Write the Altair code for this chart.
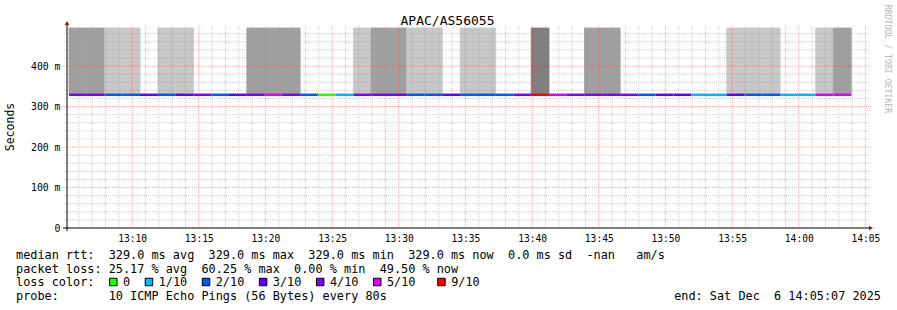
import altair as alt
import pandas as pd

NB = "\u00a0"
FONT = "DejaVu Sans Mono"

# ---------------- data ----------------
chart_title = "APAC/AS56055"
step_start = [
    "13:05:16", "13:06:36", "13:07:56", "13:09:16", "13:10:36", "13:11:56", "13:13:16", "13:14:36",
    "13:15:56", "13:17:16", "13:18:36", "13:19:56", "13:21:16", "13:22:36", "13:23:56", "13:25:16",
    "13:26:36", "13:27:56", "13:29:16", "13:30:36", "13:31:56", "13:33:16", "13:34:36", "13:35:56",
    "13:37:16", "13:38:36", "13:39:56", "13:41:16", "13:42:36", "13:43:56", "13:45:16", "13:46:36",
    "13:47:56", "13:49:16", "13:50:36", "13:51:56", "13:53:16", "13:54:36", "13:55:56", "13:57:16",
    "13:58:36", "13:59:56", "14:01:16", "14:02:36",
]
step_seconds = 80
median_ms = [
    329.0, 329.0, 329.0, 329.0, 329.0, 329.0, 329.0, 329.0, 329.0, 329.0,
    329.0, 329.0, 329.0, 329.0, 329.0, 329.0, 329.0, 329.0, 329.0, 329.0,
    329.0, 329.0, 329.0, 329.0, 329.0, 329.0, 329.0, 329.0, 329.0, 329.0,
    329.0, 329.0, 329.0, 329.0, 329.0, 329.0, 329.0, 329.0, 329.0, 329.0,
    329.0, 329.0, 329.0, 329.0,
]
loss_bucket = [
    "4/10", "4/10", "2/10", "2/10", "3/10", "2/10", "3/10", "4/10", "2/10", "3/10",
    "4/10", "5/10", "4/10", "2/10", "0", "1/10", "4/10", "4/10", "4/10", "2/10",
    "2/10", "3/10", "2/10", "2/10", "2/10", "4/10", "9/10", "5/10", "4/10", "4/10",
    "4/10", "4/10", "2/10", "3/10", "3/10", "1/10", "1/10", "3/10", "2/10", "2/10",
    "1/10", "1/10", "5/10", "5/10",
]
smoke_level = [
    "dark", "dark", "light", "light", "none", "light", "light", "none", "none", "none",
    "dark", "dark", "dark", "none", "none", "none", "light", "dark", "dark", "light",
    "light", "none", "light", "light", "none", "none", "darkest", "none", "none", "dark",
    "dark", "none", "none", "none", "none", "none", "none", "light", "light", "light",
    "none", "none", "light", "dark",
]

loss_labels = ["0", "1/10", "2/10", "3/10", "4/10", "5/10", "9/10"]
loss_colors = ["#26ff00", "#00b8ff", "#0059ff", "#5e00ff", "#7e00ff", "#dd00ff", "#ff0000"]
smoke_names = ["light", "dark", "darkest"]
smoke_colors = ["#c8c8c8", "#a0a0a0", "#7f7f7f"]

x_tick_minutes = [10, 15, 20, 25, 30, 35, 40, 45, 50, 55, 60, 65]
x_tick_labels = ["13:10", "13:15", "13:20", "13:25", "13:30", "13:35",
                 "13:40", "13:45", "13:50", "13:55", "14:00", "14:05"]
y_tick_values = [0, 100, 200, 300, 400]
y_tick_labels = ["0" + NB + NB, "100" + NB + "m", "200" + NB + "m", "300" + NB + "m", "400" + NB + "m"]

legend_line1 = "median rtt:  329.0 ms avg  329.0 ms max  329.0 ms min  329.0 ms now  0.0 ms sd  -nan   am/s"
legend_line2 = "packet loss: 25.17 % avg  60.25 % max  0.00 % min  49.50 % now"
legend_line3_head = "loss color:"
legend_line4 = "probe:       10 ICMP Echo Pings (56 Bytes) every 80s"
end_text = "end: Sat Dec  6 14:05:07 2025"
watermark = "RRDTOOL / TOBI OETIKER"

# ---------------- geometry ----------------
W, H = 800, 200
PAD_L, PAD_T = 67, 28
X_MIN = 5 + 7 / 60      # 13:05:07 in minutes after 13:00
X_MAX = 65 + 7 / 60     # 14:05:07
Y_TOP = 494


def to_min(s):
    h, m, sec = (int(v) for v in s.split(":"))
    return (h - 13) * 60 + m + sec / 60


starts = [to_min(s) for s in step_start]
df = pd.DataFrame({
    "x0": starts,
    "x1": [s + step_seconds / 60 for s in starts],
    "ms": median_ms,
    "loss": loss_bucket,
    "smoke": smoke_level,
})
smoke_df = df[df["smoke"] != "none"].copy()
smoke_df["hi"] = Y_TOP

xscale = alt.Scale(domain=[X_MIN, X_MAX], nice=False, zero=False)
yscale = alt.Scale(domain=[0, Y_TOP], nice=False, zero=True)

x_lab_expr = "[" + ",".join("'%s'" % s for s in x_tick_labels) + "][indexof([" + \
    ",".join(str(v) for v in x_tick_minutes) + "], datum.value)]"
y_lab_expr = "[" + ",".join("'%s'" % s for s in y_tick_labels) + "][indexof([" + \
    ",".join(str(v) for v in y_tick_values) + "], datum.value)]"

x_axis = alt.Axis(values=x_tick_minutes, labelExpr=x_lab_expr, title=None, grid=False,
                  ticks=False, domain=False, labelFont=FONT, labelFontSize=9.6,
                  labelPadding=5, labelColor="#000000", labelFlush=False, labelOverlap=False)
y_axis = alt.Axis(values=y_tick_values, labelExpr=y_lab_expr, title=None, grid=False,
                  ticks=False, domain=False, labelFont=FONT, labelFontSize=9.8,
                  labelPadding=7, labelColor="#000000", labelBaseline="middle")

# ---------------- grid ----------------
minor_v = pd.DataFrame({"m": [m for m in range(6, 66) if m % 5 != 0]})
major_v = pd.DataFrame({"m": list(range(10, 66, 5))})
minor_h = pd.DataFrame({"v": [v for v in range(20, 481, 20) if v % 100 != 0]})
major_h = pd.DataFrame({"v": [100, 200, 300, 400]})

GRID_MINOR = "#8c8c8c"
GRID_MAJOR = "#e83030"

g_minor_v = alt.Chart(minor_v).mark_rule(color=GRID_MINOR, opacity=0.45, strokeWidth=1, strokeDash=[1, 1]).encode(
    x=alt.X("m:Q", scale=xscale, axis=x_axis), y=alt.value(-2), y2=alt.value(H))
g_minor_h = alt.Chart(minor_h).mark_rule(color=GRID_MINOR, opacity=0.45, strokeWidth=1, strokeDash=[1, 1]).encode(
    y=alt.Y("v:Q", scale=yscale, axis=y_axis), x=alt.value(-3), x2=alt.value(W + 2))
g_major_v = alt.Chart(major_v).mark_rule(color=GRID_MAJOR, opacity=0.4, strokeWidth=1, strokeDash=[1, 1]).encode(
    x=alt.X("m:Q", scale=xscale, axis=x_axis), y=alt.value(-2), y2=alt.value(H))
g_major_h = alt.Chart(major_h).mark_rule(color=GRID_MAJOR, opacity=0.4, strokeWidth=1, strokeDash=[1, 1]).encode(
    y=alt.Y("v:Q", scale=yscale, axis=y_axis), x=alt.value(-5), x2=alt.value(W + 4))

# ---------------- data marks ----------------
smoke_scale = alt.Scale(domain=smoke_names, range=smoke_colors)
smoke = alt.Chart(smoke_df).mark_rect(strokeWidth=0.8).encode(
    x=alt.X("x0:Q", scale=xscale, axis=x_axis),
    x2="x1:Q",
    y=alt.Y("ms:Q", scale=yscale, axis=y_axis),
    y2="hi:Q",
    fill=alt.Fill("smoke:N", scale=smoke_scale, legend=None),
    stroke=alt.Stroke("smoke:N", scale=smoke_scale, legend=None),
)

median = alt.Chart(df).mark_rule(strokeWidth=2.5, strokeCap="butt").encode(
    x=alt.X("x0:Q", scale=xscale, axis=x_axis),
    x2="x1:Q",
    y=alt.Y("ms:Q", scale=yscale, axis=y_axis),
    color=alt.Color("loss:N", scale=alt.Scale(domain=loss_labels, range=loss_colors), legend=None),
)

one = pd.DataFrame({"k": [0]})
axis_y_line = alt.Chart(one).mark_rule(color="#000000", strokeWidth=1).encode(
    x=alt.value(0), y=alt.value(-4), y2=alt.value(H + 3))
axis_x_line = alt.Chart(one).mark_rule(color="#000000", strokeWidth=1).encode(
    y=alt.value(H), x=alt.value(-4), x2=alt.value(W + 2))
arrow_up = alt.Chart(one).mark_point(shape="triangle-up", filled=True, size=22, color="#8b1a1a", opacity=1).encode(
    x=alt.value(0), y=alt.value(-5))
arrow_right = alt.Chart(one).mark_point(shape="triangle-right", filled=True, size=22, color="#8b1a1a", opacity=1).encode(
    x=alt.value(W + 4), y=alt.value(H))


def text_layer(s, x, y, size, align="left", baseline="alphabetic", angle=0, color="#000000"):
    return alt.Chart(pd.DataFrame({"t": [s.replace(" ", NB)]})).mark_text(
        font=FONT, fontSize=size, align=align, baseline=baseline, angle=angle, color=color
    ).encode(text="t:N", x=alt.value(x), y=alt.value(y))


FS = 11.85
CW = FS * 0.602    # legend character width
LX = 16 - PAD_L    # legend left edge in plot coords

layers = [smoke, g_minor_v, g_minor_h, g_major_v, g_major_h, median,
          axis_y_line, axis_x_line, arrow_up, arrow_right]

layers.append(text_layer(chart_title, 447.5 - PAD_L, 25 - PAD_T, 13, align="center"))
layers.append(text_layer("Seconds", 10.5 - PAD_L, 127 - PAD_T, 11.5, align="center",
                         baseline="middle", angle=270))
layers.append(text_layer(watermark, 886.5 - PAD_L, 59 - PAD_T, 8.2, align="center",
                         baseline="middle", angle=90, color="#b8b8b8"))
layers.append(text_layer(legend_line1, LX, 259 - PAD_T, FS))
layers.append(text_layer(legend_line2, LX, 272.7 - PAD_T, FS))
layers.append(text_layer(legend_line3_head, LX, 286.3 - PAD_T, FS))
layers.append(text_layer(legend_line4, LX, 300.3 - PAD_T, FS))
layers.append(text_layer(end_text, 881 - PAD_L, 300.3 - PAD_T, FS, align="right"))

label_cells = [15, 20, 28, 36, 44, 52, 61]
for lab, col, c in zip(loss_labels, loss_colors, label_cells):
    layers.append(text_layer(lab, LX + c * CW, 286.3 - PAD_T, FS))
    sq_x = LX + (c - 2 + 0.5) * CW + 1
    layers.append(alt.Chart(one).mark_point(shape="square", filled=True, size=56, fill=col,
                                            stroke="#000000", strokeWidth=1, opacity=1).encode(
        x=alt.value(sq_x), y=alt.value(282 - PAD_T)))

chart = alt.layer(*layers).properties(
    width=W, height=H,
    autosize=alt.AutoSizeParams(type="none"),
    padding={"left": PAD_L, "top": PAD_T, "right": 897 - PAD_L - W, "bottom": 310 - PAD_T - H},
    background="#ffffff",
).configure_view(stroke=None).configure_axis(labelFont=FONT)

chart.save("out.html", embed_options={"renderer": "svg", "actions": False})
